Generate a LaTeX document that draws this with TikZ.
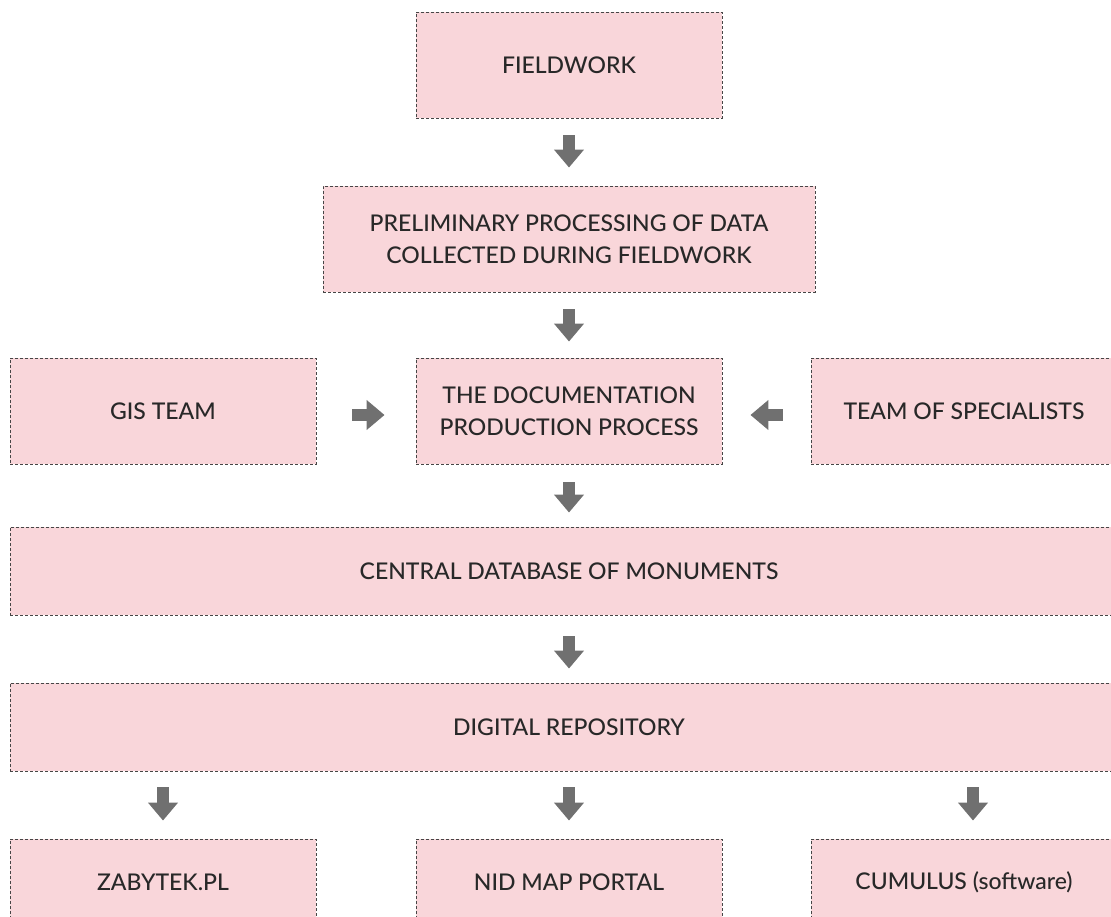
\documentclass[tikz,border=0pt]{standalone}
\usepackage{fontspec}
\setmainfont{Lato Medium}
\usetikzlibrary{arrows.meta,calc}
\definecolor{boxfill}{RGB}{249,214,218}
\definecolor{boxline}{RGB}{70,70,70}
\definecolor{arrowgray}{RGB}{112,112,112}
\definecolor{txt}{RGB}{40,40,40}
\begin{document}
\begin{tikzpicture}[x=1pt,y=-1pt,
  box/.style={draw=boxline, line width=0.9pt, dash pattern=on 3pt off 2pt,
    fill=boxfill, inner sep=0pt, align=center, text=txt,
    font=\fontsize{23}{32}\selectfont},
  blockarrow/.style={draw=arrowgray, line width=12pt,
    -{Triangle[width=29pt,length=18pt]}}]
\useasboundingbox (0,0) rectangle (1111,917);
\node[box, minimum width=306pt, minimum height=106pt] (field) at (569,65) {FIELDWORK};
\node[box, minimum width=492pt, minimum height=106pt] (prelim) at (569,239)
  {PRELIMINARY PROCESSING OF DATA\\COLLECTED DURING FIELDWORK};
\node[box, minimum width=306pt, minimum height=106pt] (gis) at (163,411) {GIS TEAM};
\node[box, minimum width=306pt, minimum height=106pt] (doc) at (569,411)
  {THE DOCUMENTATION\\PRODUCTION PROCESS};
\node[box, minimum width=306pt, minimum height=106pt] (team) at (964,411) {TEAM OF SPECIALISTS};
\node[box, minimum width=1118pt, minimum height=88pt] (central) at (569,571) {CENTRAL DATABASE OF MONUMENTS};
\node[box, minimum width=1118pt, minimum height=88pt] (dig) at (569,727) {DIGITAL REPOSITORY};
\node[box, minimum width=306pt, minimum height=86pt] (zab) at (163,882) {ZABYTEK.PL};
\node[box, minimum width=306pt, minimum height=86pt] (nid) at (569,882) {NID MAP PORTAL};
\node[box, minimum width=306pt, minimum height=86pt] (cum) at (964,882) {CUMULUS (software)};

\draw[blockarrow, shorten <=17pt, shorten >=18pt] (field.south) -- (prelim.north);
\draw[blockarrow, shorten <=17pt, shorten >=16pt] (prelim.south) -- (doc.north);
\draw[blockarrow, shorten <=36pt, shorten >=31pt] ($(gis.east)+(0,4)$) -- ($(doc.west)+(0,4)$);
\draw[blockarrow, shorten <=28pt, shorten >=28pt] ($(team.west)+(0,4)$) -- ($(doc.east)+(0,4)$);
\draw[blockarrow, shorten <=18pt, shorten >=14pt] (doc.south) -- (central.north);
\draw[blockarrow, shorten <=21pt, shorten >=14pt] (central.south) -- (dig.north);
\draw[blockarrow, shorten <=16pt, shorten >=18pt] (zab.north |- dig.south) -- (zab.north);
\draw[blockarrow, shorten <=16pt, shorten >=18pt] (nid.north |- dig.south) -- (nid.north);
\draw[blockarrow, shorten <=16pt, shorten >=18pt] ($(cum.north |- dig.south)+(9,0)$) -- ($(cum.north)+(9,0)$);
\end{tikzpicture}
\end{document}
